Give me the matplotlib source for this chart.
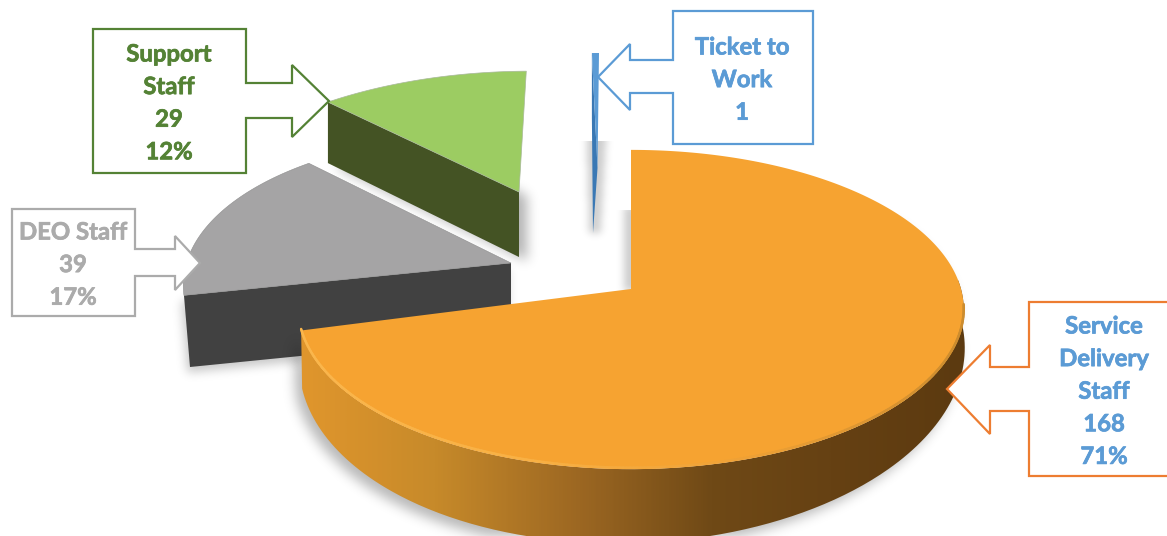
import numpy as np
import matplotlib
matplotlib.use("Agg")
import matplotlib.pyplot as plt
import matplotlib.patheffects as pe
from matplotlib.path import Path
from matplotlib.patches import PathPatch, Polygon
from matplotlib.collections import LineCollection
from matplotlib.colors import LinearSegmentedColormap

# datos del grafico
labels = ["Service Delivery Staff", "DEO Staff", "Support Staff", "Ticket to Work"]
values = [168, 39, 29, 1]
label_lines = [
    ["Service", "Delivery", "Staff", "168", "71%"],
    ["DEO Staff", "39", "17%"],
    ["Support", "Staff", "29", "12%"],
    ["Ticket to", "Work", "1"],
]

W, H = 1167, 536

# colores de cada porcion: cara superior y cara del corte
top_colors = ["#F6A331", "#A5A4A5", "#9CCC62", "#5B9BD5"]
side_colors = [None, "#414141", "#445324", "#3A78B4"]
edge_colors = ["#ED7D31", "#ABABAB", "#548235", "#5B9BD5"]
text_colors = ["#5B9BD5", "#ABABAB", "#548235", "#5B9BD5"]

# proyeccion de cada porcion separada: vertice, escalas, perspectiva y sesgo
top_geo = [
    dict(x0=631, y0=289, A=330, B=157, p=0.1285, q=0, s=0),
    dict(x0=511, y0=263, A=321.5, B=153, p=0.194, q=0, s=-8.6),
    dict(x0=519, y0=192, A=322, B=145, p=0.2, q=17.3, s=-1.4),
    dict(x0=597.5, y0=168, A=322, B=138, p=0.2, q=1.8, s=0),
]
bottom_orange = dict(x0=632, y0=332, A=330, B=184, p=0.1285, q=0, s=8)

# cajas de texto: caja, eje de la flecha, cabeza y punta
callouts = [
    dict(box=(1029, 302, 1172, 476), side="left", shaft=(367, 411), neck=990, head=(345, 434), tip=(947, 389)),
    dict(box=(12, 209, 135, 316), side="right", shaft=(249, 276), neck=175, head=(236, 290), tip=(200, 263)),
    dict(box=(93, 29, 246, 173), side="right", shaft=(83, 118), neck=292, head=(65, 137), tip=(329, 101)),
    dict(box=(673, 11, 813, 144), side="left", shaft=(60, 93), neck=630, head=(44, 110), tip=(598, 77)),
]
text_pos = [(1104, 326), (73, 232), (169, 54), (742, 47)]
line_step = 32.6


def project(theta, g):
    # theta en grados, en sentido horario desde arriba
    t = np.radians(theta)
    u, v = np.sin(t), np.cos(t)
    d = 1 + g["p"] * v
    return g["x0"] + (g["A"] * u + g["q"] * v) / d, g["y0"] - (g["B"] * v + g["s"] * u) / d


def arc(t0, t1, g, n=200):
    x, y = project(np.linspace(t0, t1, n), g)
    return np.column_stack([x, y])


def blur(img, sigma):
    r = int(3 * sigma)
    k = np.exp(-0.5 * (np.arange(-r, r + 1) / sigma) ** 2)
    k /= k.sum()
    img = np.apply_along_axis(lambda c: np.convolve(c, k, mode="same"), 0, img)
    return np.apply_along_axis(lambda c: np.convolve(c, k, mode="same"), 1, img)


def soft_shadow(ax, pts, sigma, alpha, ymin=0, dx=0, dy=0, z=1):
    xx, yy = np.meshgrid(np.arange(W), np.arange(H))
    grid = np.column_stack([xx.ravel(), yy.ravel()])
    mask = Path(np.asarray(pts) + [dx, dy]).contains_points(grid).reshape(H, W).astype(float)
    mask = blur(mask, sigma)
    mask[:ymin] = 0
    rgba = np.zeros((H, W, 4))
    rgba[..., 3] = mask * alpha
    ax.imshow(rgba, extent=(0, W, H, 0), zorder=z, interpolation="bilinear", aspect="auto")


def callout_shape(c):
    x0, y0, x1, y1 = c["box"]
    s0, s1 = c["shaft"]
    h0, h1 = c["head"]
    tx, ty = c["tip"]
    n = c["neck"]
    if c["side"] == "right":
        return [(x0, y0), (x1, y0), (x1, s0), (n, s0), (n, h0), (tx, ty), (n, h1), (n, s1), (x1, s1), (x1, y1), (x0, y1)]
    return [(x1, y0), (x0, y0), (x0, s0), (n, s0), (n, h0), (tx, ty), (n, h1), (n, s1), (x0, s1), (x0, y1), (x1, y1)]


# angulos acumulados a partir de los valores
total = sum(values)
starts = np.cumsum([0] + values[:-1]) / total * 360
ends = np.cumsum(values) / total * 360

fig = plt.figure(figsize=(W / 100, H / 100), dpi=100)
ax = fig.add_axes([0, 0, 1, 1])
ax.set_xlim(0, W)
ax.set_ylim(H, 0)
ax.axis("off")

# porcion gris
g = top_geo[1]
a = arc(starts[1], ends[1], g)
ax_pts = np.array([[g["x0"], g["y0"]], a[0], [190, 367], [g["x0"], g["y0"] + 72]])
soft_shadow(ax, ax_pts, 5, 0.22, dx=-3, dy=5, z=1)
ax.add_patch(Polygon(ax_pts, closed=True, fc=side_colors[1], ec="none", zorder=3))
ax.add_patch(Polygon(np.vstack([[g["x0"], g["y0"]], a]), closed=True, fc=top_colors[1], ec="#8E8E8E", lw=0.4, zorder=4))

# porcion verde
g = top_geo[2]
a = arc(starts[2], ends[2], g)
face = np.array([a[0], [g["x0"], g["y0"]], [g["x0"], g["y0"] + 65], [a[0][0], a[0][1] + 61]])
soft_shadow(ax, np.vstack([face, a[::-1]]), 6, 0.3, ymin=141, dx=7, dy=3, z=1)
ax.add_patch(Polygon(face, closed=True, fc=side_colors[2], ec="none", zorder=5))
ax.add_patch(Polygon(np.vstack([[g["x0"], g["y0"]], a]), closed=True, fc=top_colors[2], ec="#A8B89A", lw=0.5, zorder=6))

# porcion azul, muy delgada
g = top_geo[3]
a = arc(starts[3], ends[3], g)
face = np.array([a[0], [g["x0"], g["y0"]], [593, g["y0"] + 65], [a[0][0], a[0][1] + 65]])
soft_shadow(ax, [(586, 130), (606, 130), (600, 232), (589, 232)], 4, 0.2, ymin=141, z=1)
ax.add_patch(Polygon(face, closed=True, fc=side_colors[3], ec="none", zorder=5))
ax.add_patch(Polygon(np.vstack([[g["x0"], g["y0"]], a]), closed=True, fc=top_colors[3], ec="none", zorder=6))

# porcion naranja con su lateral degradado
g = top_geo[0]
gb = bottom_orange
a = arc(starts[0], ends[0], g, 400)
top_arc = arc(60, ends[0], g, 300)
bot_arc = arc(60, ends[0], gb, 300)
side = np.vstack([top_arc, bot_arc[::-1]])
soft_shadow(ax, side, 6, 0.28, dx=-7, dy=6, z=6.5)
soft_shadow(ax, np.array([[624, 205], [640, 205], [640, 290], [624, 290]]), 4, 0.2, ymin=210, z=1)

stops = [(0.0, "#E0962D"), (0.2, "#C78A2A"), (0.42, "#9C6722"), (0.62, "#6F4916"), (0.8, "#664113"), (1.0, "#5C3A10")]
cmap = LinearSegmentedColormap.from_list("lateral", stops)
im = ax.imshow(np.linspace(0, 1, 400).reshape(1, -1), cmap=cmap, extent=(300, 965, H, 280),
               aspect="auto", zorder=7)
clip = PathPatch(Path(np.vstack([side, side[0]])), transform=ax.transData, fc="none", ec="none")
ax.add_patch(clip)
im.set_clip_path(clip)
ax.add_patch(Polygon(np.vstack([[g["x0"], g["y0"]], a]), closed=True, fc=top_colors[0], ec="none", zorder=8))

# borde biselado sobre el frente de la cara superior
rim = arc(96, ends[0], g, 300)
rim[:, 1] -= 1.5
segs = np.stack([rim[:-1], rim[1:]], axis=1)
rim_cmap = LinearSegmentedColormap.from_list("rim", ["#FAB64C", "#F9B144", "#EFA136", "#CC8C2E"])
lc = LineCollection(segs, cmap=rim_cmap, linewidths=1.8, zorder=9, capstyle="round")
lc.set_array((segs[:, 0, 0] - 300) / 665)
ax.add_collection(lc)

# cajas con flecha y sus textos
for i in range(len(labels)):
    ax.add_patch(Polygon(callout_shape(callouts[i]), closed=True, fc="white", ec=edge_colors[i],
                         lw=1.6, joinstyle="miter", zorder=10))
    tx, ty = text_pos[i]
    for j, line in enumerate(label_lines[i]):
        ax.text(tx, ty + j * line_step, line, color=text_colors[i], family="Lato", weight="bold",
                fontsize=17.2, ha="center", va="center", zorder=11,
                path_effects=[pe.withStroke(linewidth=0.5, foreground=text_colors[i])])

ax.set_xlim(0, W)
ax.set_ylim(H, 0)
fig.savefig("out.png", dpi=100)
